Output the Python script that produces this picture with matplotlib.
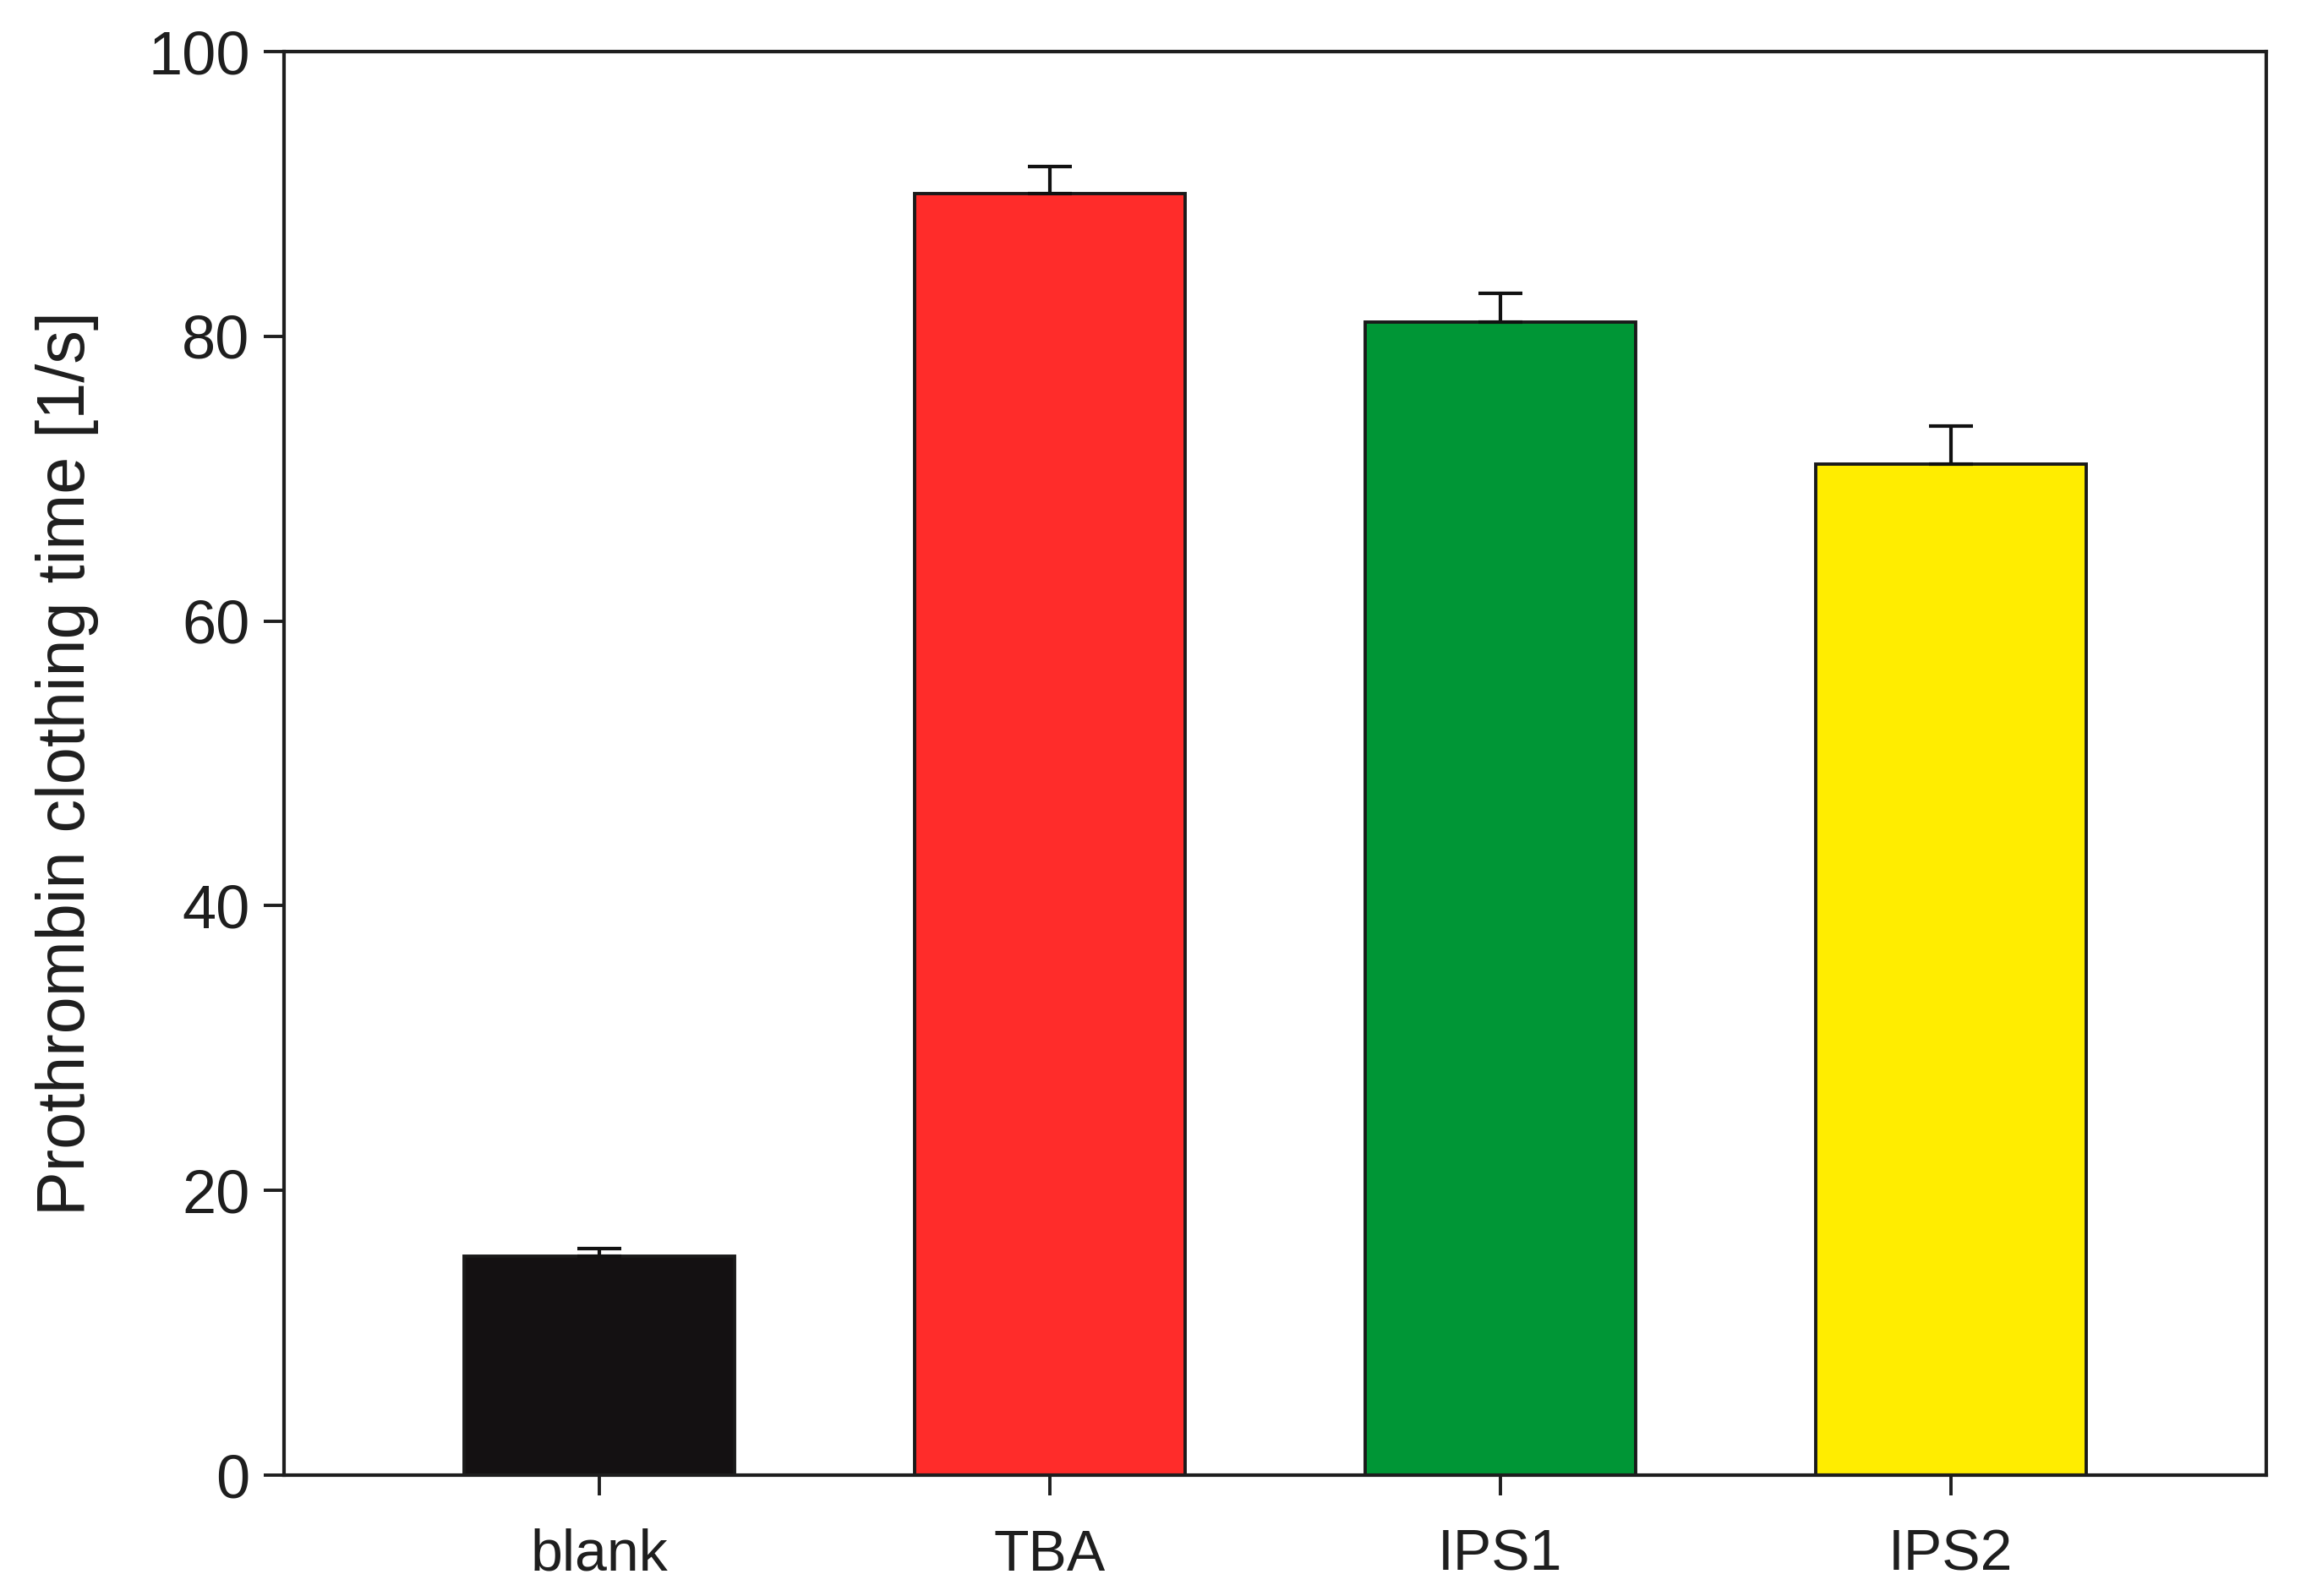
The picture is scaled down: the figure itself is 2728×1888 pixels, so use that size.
import matplotlib
matplotlib.use("Agg")
import matplotlib.pyplot as plt

categories = ["blank", "TBA", "IPS1", "IPS2"]
values = [15.4, 90.0, 81.0, 71.0]
errors = [0.5, 1.9, 2.0, 2.7]
colors = ["#141112", "#ff2c2a", "#009636", "#ffed00"]
yticks = [0, 20, 40, 60, 80, 100]

plt.rcParams['font.family'] = ['Liberation Sans', 'DejaVu Sans']

W, H = 2728, 1888
fig = plt.figure(figsize=(W/100, H/100), dpi=100)
ax = fig.add_axes([336/W, 1 - 1745/H, (2681-336)/W, (1745-61)/H])

x = list(range(len(categories)))
ax.bar(x, values, width=0.6, color=colors, edgecolor="#1a1a1a", linewidth=2.8, zorder=2)
ax.errorbar(x, values, yerr=[[0]*len(errors), errors], fmt="none", ecolor="#111111",
            elinewidth=3.0, capsize=19, capthick=3.0, zorder=3)

ax.set_xlim(-0.7, 3.7)
ax.set_ylim(0, 100)
ax.set_yticks(yticks)
ax.set_xticks(x)
ax.set_xticklabels(categories)
for s in ax.spines.values():
    s.set_linewidth(3.0)
    s.set_color("#1e1e1e")
ax.tick_params(axis='both', direction='out', length=17, width=2.8, labelsize=52,
               colors="#1e1e1e", pad=12)
ax.tick_params(axis='x', pad=28, labelsize=49)
ax.set_ylabel("Prothrombin clothing time [1/s]", fontsize=57, labelpad=42, color="#1e1e1e")

fig.savefig("out.png", dpi=100, facecolor="white")
